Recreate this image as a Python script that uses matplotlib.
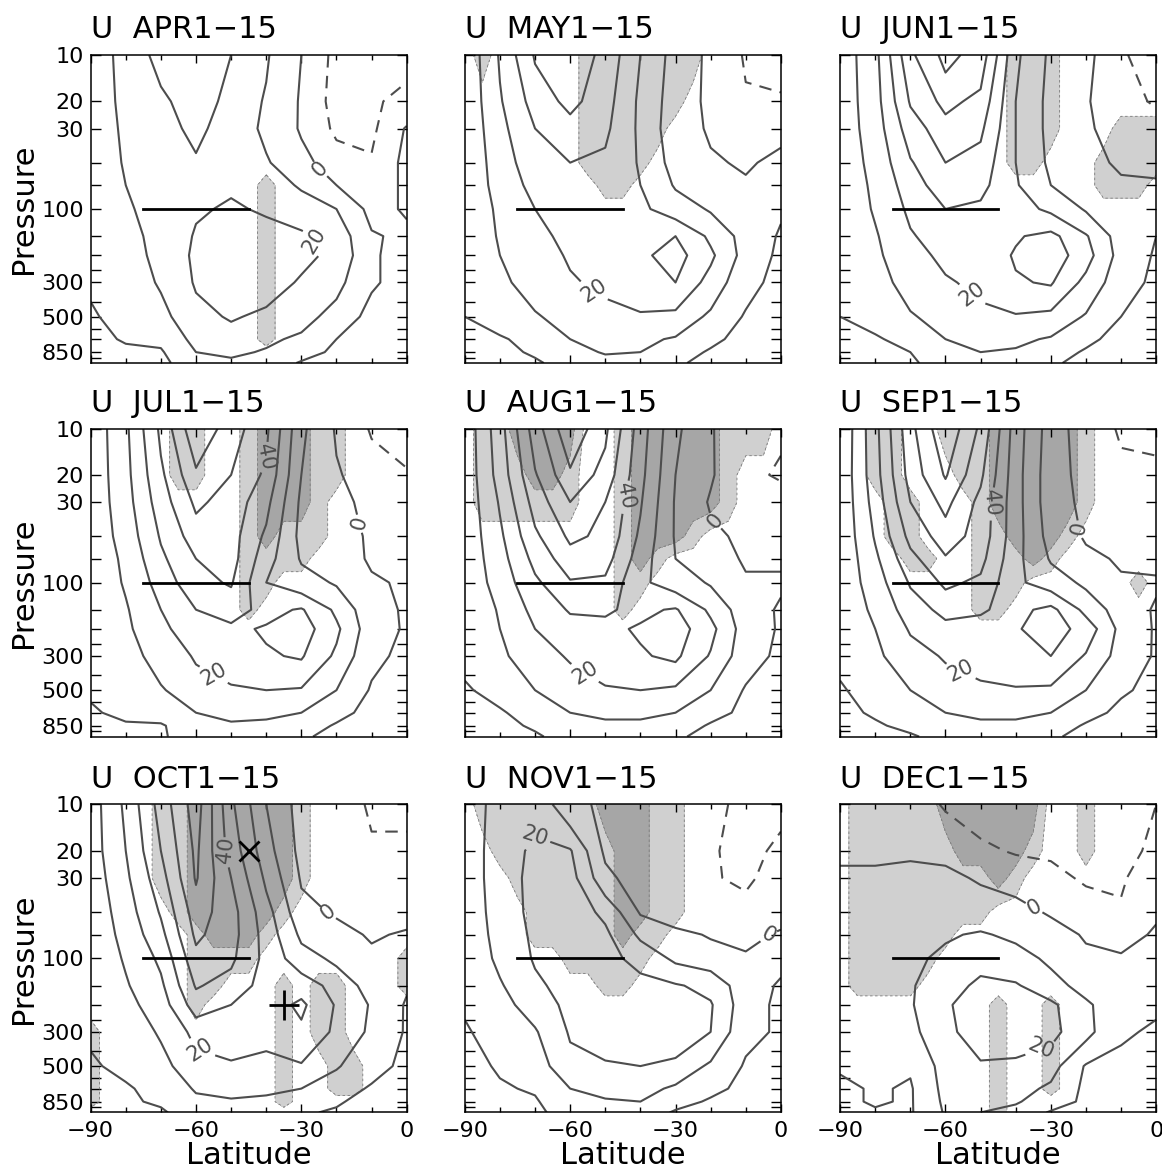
import numpy as np
import matplotlib.pyplot as plt
from matplotlib.ticker import FixedLocator, NullFormatter

# grid of the zonal-mean wind (rows = pressure, columns = latitude)
LAT = [-90, -80, -70, -60, -50, -40, -30, -20, -10, 0]
PRES = [10, 20, 30, 50, 70, 100, 150, 200, 300, 500, 700, 850, 1000]
# finer latitude grid for the shaded (significance) areas, 0 = none, 1 = light, 2 = dark
SHADE_LAT = list(range(-90, 1, 5))

MONTHS = ['APR', 'MAY', 'JUN', 'JUL', 'AUG', 'SEP', 'OCT', 'NOV', 'DEC']

U_APR = [
    [3, 14, 23, 29, 20, 11, 0, -13, -14, -12],
    [3, 13, 18, 25, 17, 9, -1, -14, -11, -8],
    [3, 12, 17, 22, 16, 8, -1, -12, -12, 1],
    [3, 11, 16, 19, 17, 11, 3, -5, -9, 3],
    [3, 10, 15, 18, 19, 14, 9, 0, -6, 2],
    [2, 9, 13, 19, 21, 19, 14, 10, -3, 1],
    [2, 8, 12, 21, 23, 23, 22, 16, 1, -2],
    [2, 7, 12, 22, 24, 25, 22, 18, 1, -3],
    [1, 5, 11, 21, 24, 24, 19, 13, 1, -3],
    [-1, 3, 7, 17, 21, 18, 14, 6, -3, -4],
    [-3, 1, 2, 13, 16, 12, 8, 0, -5, -4],
    [-3, -2, -1, 10, 12, 9, 4, -2, -5, -4],
    [-3, -3, -2, 5, 8, 6, -1, -3, -5, -4],
]
U_MAY = [
    [2, 21, 41, 47, 37, 20, 6, -2, -11, -13],
    [2, 19, 34, 43, 34, 18, 5, -2, -9, -9],
    [2, 17, 30, 36, 32, 18, 4, -1, -4, -2],
    [2, 15, 26, 30, 28, 19, 6, 1, -1, 2],
    [2, 14, 23, 27, 25, 20, 9, 4, 1, 3],
    [2, 12, 20, 24, 23, 22, 15, 9, 3, 1],
    [2, 11, 18, 22, 23, 25, 30, 18, 6, -1],
    [2, 10, 16, 21, 23, 28, 34, 22, 6, -2],
    [2, 8, 14, 19, 22, 25, 30, 16, 3, -3],
    [0, 4, 9, 14, 17, 19, 17, 8, -1, -3],
    [-2, -1, 3, 10, 12, 12, 9, 2, -3, -4],
    [-2, -2, 1, 6, 11, 10, 4, -1, -4, -4],
    [-3, -2, -1, 3, 6, 5, 1, -2, -4, -4],
]
U_JUN = [
    [4, 17, 48, 63, 56, 22, 8, 3, -9, -14],
    [4, 16, 41, 53, 47, 20, 7, 1, -7, -11],
    [4, 15, 35, 46, 42, 20, 7, 1, -3, -6],
    [4, 13, 29, 40, 36, 20, 8, 2, -1, -2],
    [3, 12, 25, 36, 33, 21, 10, 4, 1, 1],
    [3, 11, 22, 30, 28, 24, 18, 9, 2, 1],
    [3, 9, 19, 25, 25, 29, 33, 21, 5, 0],
    [3, 8, 17, 22, 24, 31, 36, 24, 6, -1],
    [2, 6, 14, 19, 22, 29, 31, 17, 4, -2],
    [0, 3, 9, 14, 18, 19, 17, 9, 0, -3],
    [-2, -1, 3, 10, 13, 12, 9, 2, -3, -4],
    [-3, -2, 0, 6, 10, 9, 4, -1, -4, -4],
    [-3, -2, -1, 3, 6, 5, 1, -2, -4, -4],
]
U_JUL = [
    [3, 18, 42, 68, 55, 42, 12, -1, -11, -14],
    [3, 17, 38, 58, 50, 38, 10, 1, -5, -9],
    [3, 16, 35, 52, 46, 33, 8, 2, -2, -3],
    [3, 14, 31, 45, 44, 28, 7, 3, -1, -2],
    [3, 12, 28, 40, 44, 24, 9, 4, -1, -1],
    [3, 11, 24, 37, 41, 20, 14, 9, 1, -1],
    [3, 9, 20, 30, 34, 27, 31, 18, 3, -1],
    [2, 8, 18, 25, 28, 31, 35, 22, 4, -1],
    [2, 6, 14, 21, 24, 29, 31, 18, 2, -2],
    [1, 4, 9, 16, 19, 20, 19, 10, -1, -3],
    [-1, 2, 4, 10, 12, 12, 10, 3, -3, -4],
    [-2, -1, -1, 6, 9, 8, 5, -1, -4, -5],
    [-3, -2, -1, 4, 5, 4, 1, -2, -5, -5],
]
U_AUG = [
    [3, 26, 55, 78, 62, 35, 12, 1, -9, -9],
    [3, 24, 49, 68, 56, 33, 10, 1, -8, -11],
    [3, 21, 44, 60, 50, 31, 9, -1, -4, -6],
    [3, 18, 38, 52, 48, 28, 9, 2, -2, -3],
    [3, 16, 33, 46, 44, 25, 10, 4, -1, -1],
    [3, 14, 28, 39, 38, 22, 15, 9, 1, 1],
    [2, 11, 23, 31, 31, 28, 31, 18, 4, -1],
    [2, 10, 20, 26, 28, 31, 35, 23, 5, -1],
    [2, 8, 16, 21, 25, 29, 32, 19, 4, -2],
    [-1, 3, 10, 15, 19, 20, 18, 10, -1, -3],
    [-2, -1, 4, 10, 12, 12, 10, 3, -2, -3],
    [-3, -2, 1, 6, 8, 8, 5, -1, -3, -4],
    [-3, -2, -1, 3, 5, 4, 1, -2, -4, -4],
]
U_SEP = [
    [1, 27, 57, 78, 58, 25, 5, -5, -11, -11],
    [2, 26, 54, 71, 52, 24, 4, -3, -8, -9],
    [2, 24, 50, 63, 47, 24, 4, -2, -5, -6],
    [2, 21, 43, 55, 46, 24, 6, -1, -3, -4],
    [2, 18, 37, 49, 43, 23, 9, 2, -1, -2],
    [3, 15, 31, 42, 38, 22, 15, 8, 1, 1],
    [3, 12, 25, 33, 31, 27, 33, 17, 5, -1],
    [3, 10, 21, 27, 27, 29, 35, 26, 7, -1],
    [2, 8, 16, 21, 24, 27, 30, 19, 6, -1],
    [-1, 4, 10, 15, 18, 19, 18, 10, 1, -2],
    [-2, 1, 5, 10, 12, 12, 10, 3, -2, -3],
    [-3, -1, 2, 6, 8, 8, 5, -1, -3, -4],
    [-3, -2, -1, 3, 5, 4, 1, -2, -4, -4],
]
U_OCT = [
    [5, 22, 44, 65, 32, 10, -4, -6, -11, -12],
    [5, 20, 40, 62, 36, 14, -3, -6, -9, -8],
    [4, 18, 36, 61, 40, 18, -1, -5, -7, -6],
    [3, 15, 31, 55, 44, 24, 3, -1, -4, -3],
    [3, 13, 27, 52, 44, 26, 8, 3, -1, 1],
    [3, 11, 22, 47, 42, 27, 14, 8, 2, 2],
    [2, 9, 18, 41, 36, 26, 26, 16, 6, 1],
    [2, 7, 15, 35, 30, 25, 32, 19, 9, -1],
    [1, 5, 11, 23, 24, 22, 28, 18, 8, -1],
    [-1, 2, 7, 16, 19, 18, 19, 11, 3, -2],
    [-2, -1, 3, 11, 13, 12, 10, 4, -1, -3],
    [-3, -1, 1, 8, 9, 8, 5, 1, -3, -3],
    [-3, -2, -1, 4, 5, 4, 1, -1, -3, -3],
]
U_NOV = [
    [4, 14, 17, 3, -2, -5, -7, -9, -11, -12],
    [4, 15, 22, 21, -2, -6, -8, -9, -13, -8],
    [4, 15, 23, 24, 3, -6, -8, -9, -12, -5],
    [4, 14, 23, 25, 18, -1, -6, -7, -6, -3],
    [4, 13, 22, 25, 22, 8, 3, -1, -2, 1],
    [3, 12, 21, 25, 23, 17, 8, 5, 1, 2],
    [2, 9, 18, 24, 24, 23, 21, 17, 4, -1],
    [1, 7, 14, 23, 25, 26, 25, 21, 4, -2],
    [-1, 4, 9, 21, 24, 26, 25, 20, 2, -1],
    [-3, 1, 5, 17, 19, 20, 18, 8, -1, -2],
    [-3, -1, 1, 10, 13, 14, 8, 2, -2, -3],
    [-3, -2, -1, 7, 9, 10, 3, -1, -3, -3],
    [-3, -2, -2, 4, 5, 5, -1, -2, -3, -3],
]
U_DEC = [
    [-3, -4, -5, -11, -14, -14, -13, -16, -16, -10],
    [-1, -1, -1, -2, -8, -11, -11, -15, -13, -8],
    [1, 1, 2, 2, -1, -3, -8, -11, -11, -5],
    [2, 3, 4, 6, 5, 3, -1, -6, -9, -1],
    [3, 4, 6, 9, 11, 8, 4, -1, -3, 1],
    [3, 5, 8, 12, 17, 14, 8, 2, 1, 2],
    [3, 5, 9, 16, 22, 21, 14, 6, 2, 1],
    [3, 5, 9, 19, 24, 25, 22, 12, 2, 1],
    [2, 4, 7, 18, 24, 25, 23, 13, 1, -1],
    [1, 1, 1, 14, 19, 18, 14, -1, -2, -2],
    [-2, 1, -1, 13, 15, 14, 8, -2, -3, -3],
    [-2, 1, -1, 12, 13, 11, 5, -2, -4, -3],
    [-3, -1, -1, 11, 10, 7, -1, -2, -4, -3],
]

Z = "0000000000000000000"
SHADE_APR = [Z, Z, Z, Z,
             "0000000000100000000", "0000000000100000000", "0000000000100000000",
             "0000000000100000000", "0000000000100000000", "0000000000100000000",
             "0000000000100000000", Z, Z]
SHADE_MAY = ["0100000111111100000", "0000000111111000000", "0000000111110000000",
             "0000000111100000000", "0000000011000000000", Z, Z, Z, Z, Z, Z, Z, Z]
SHADE_JUN = ["0000000000111000000", "0000000000111000000", "0000000000111000111",
             "0000000000110001111", "0000000000000001110", Z, Z, Z, Z, Z, Z, Z, Z]
SHADE_JUL = ["0000011001222110000", "0000011001222110000", "0000000001222100000",
             "0000000001211100000", "0000000001111000000", "0000000001100000000",
             "0000000001000000000", Z, Z, Z, Z, Z, Z]
SHADE_AUG = ["0112222001222221110", "0111221001222221000", "0111111001222221000",
             "0000000001222100000", "0000000001210000000", "0000000001100000000",
             "0000000001000000000", Z, Z, Z, Z, Z, Z]
SHADE_SEP = ["0011001112222210000", "0011000112222210000", "0001100012222210000",
             "0001100011222100000", "0000110011121000000", "0000000011100000010",
             "0000000011000000000", Z, Z, Z, Z, Z, Z]
SHADE_OCT = ["0000112222221000000", "0000112222221000000", "0000112222221000000",
             "0000012222210000000", "0000001222100000000", "0000001111000000001",
             "0000001100010110001", "0000001000010110000", "1000000000010110000",
             "1000000000010011000", "1000000000010011000", "1000000000010000000", Z]
SHADE_NOV = ["0111111122211000000", "0011111112211000000", "0001111112211000000",
             "0000111112211000000", "0000111112110000000", "0000001111100000000",
             "0000000011000000000", Z, Z, Z, Z, Z, Z]
SHADE_DEC = ["0111112222220010000", "0111111222210010000", "0111111112100000000",
             "0111111110000000000", "0111111000000000000", "0111110000000000000",
             "0111100000000000000", "0000000001001000000", "0000000001001000000",
             "0000000001001000000", "0000000001001000000", "0000000001000000000",
             "0000000001000000000"]

# labelled contours: (value, latitude, pressure)
LABELS = {
    'APR': [(0, -25, 56), (20, -24, 155)],
    'MAY': [(20, -55, 390)],
    'JUN': [(20, -53, 372)],
    'JUL': [(40, -41, 15), (0, -15, 42), (20, -54, 363)],
    'AUG': [(40, -45.5, 27), (0, -19, 40), (20, -56, 393)],
    'SEP': [(40, -48, 30), (0, -22.5, 45), (20, -56, 393)],
    'OCT': [(40, -54.6, 20), (0, -21.7, 48), (20, -59, 398)],
    'NOV': [(20, -70, 15.3), (0, -2.4, 77)],
    'DEC': [(0, -34, 43.5), (20, -34, 330)],
}

JET_LAT = [-75, -45]
JET_P = [100, 100]
OCT_X = (-45, 20)
OCT_PLUS = (-35, 200)

U_ALL = [U_APR, U_MAY, U_JUN, U_JUL, U_AUG, U_SEP, U_OCT, U_NOV, U_DEC]
SHADE_ALL = [SHADE_APR, SHADE_MAY, SHADE_JUN, SHADE_JUL, SHADE_AUG,
             SHADE_SEP, SHADE_OCT, SHADE_NOV, SHADE_DEC]

LINE = '#4d4d4d'
LIGHT = '#d0d0d0'
DARK = '#a6a6a6'
POS_LEVELS = list(range(0, 100, 10))

fig = plt.figure(figsize=(11.62, 11.71), dpi=100)
lefts = [0.078, 0.400, 0.723]
bottoms = [0.690, 0.371, 0.050]

for i, month in enumerate(MONTHS):
    r, c = divmod(i, 3)
    ax = fig.add_axes([lefts[c], bottoms[r], 0.272, 0.263])
    ax.set_yscale('log')

    u = np.array(U_ALL[i], dtype=float)
    s = np.array([[int(ch) for ch in row] for row in SHADE_ALL[i]], dtype=float)

    # shading and its thin dashed outline
    ax.contourf(SHADE_LAT, PRES, s, levels=[0.5, 1.5, 2.5], colors=[LIGHT, DARK])
    lv = [l for l in (0.5, 1.5) if s.max() > l]
    ax.contour(SHADE_LAT, PRES, s, levels=lv, colors='#7a7a7a',
               linewidths=0.6, linestyles=[(0, (3, 3))])

    labelled = sorted(set(l for l, _, _ in LABELS[month]))
    plain = [l for l in POS_LEVELS if l not in labelled and u.min() < l < u.max()]
    ax.contour(LAT, PRES, u, levels=plain, colors=LINE, linewidths=1.5)
    for lev in labelled:
        cs = ax.contour(LAT, PRES, u, levels=[lev], colors=LINE, linewidths=1.5)
        spots = [(la, p) for l, la, p in LABELS[month] if l == lev]
        ax.clabel(cs, manual=spots, inline=True, inline_spacing=3,
                  fmt='%d', fontsize=15, colors=LINE)
    if u.min() < -10:
        neg = [l for l in (-30, -20, -10) if l > u.min()]
        ax.contour(LAT, PRES, u, levels=neg, colors=LINE,
                   linewidths=1.5, linestyles=[(0, (6, 4))])

    ax.plot(JET_LAT, JET_P, color='black', lw=2)
    if month == 'OCT':
        ax.plot(*OCT_X, marker='x', ms=15, mew=2, color='black')
        ax.plot(*OCT_PLUS, marker='+', ms=22, mew=2, color='black')

    ax.set_xlim(-90, 0)
    ax.set_ylim(1000, 10)
    ax.set_xticks([-90, -60, -30, 0])
    ax.set_xticks([-80, -70, -50, -40, -20, -10], minor=True)
    ax.yaxis.set_major_locator(FixedLocator([10, 20, 30, 100, 300, 500, 850]))
    ax.set_yticklabels(['10', '20', '30', '100', '300', '500', '850'])
    ax.yaxis.set_minor_locator(FixedLocator([50, 70, 150, 200, 250, 400, 600, 700, 925]))
    ax.yaxis.set_minor_formatter(NullFormatter())
    ax.tick_params(axis='both', which='both', direction='in', top=True, right=True,
                   labelsize=16, width=1)
    ax.tick_params(axis='x', which='major', length=6, pad=6)
    ax.tick_params(axis='x', which='minor', length=3.5)
    ax.tick_params(axis='y', which='both', length=7, pad=5)
    for sp in ax.spines.values():
        sp.set_linewidth(1.1)

    if c == 0:
        ax.set_ylabel('Pressure', fontsize=22, labelpad=2)
    else:
        ax.tick_params(labelleft=False)
    if r == 2:
        ax.set_xlabel('Latitude', fontsize=22, labelpad=0)
    else:
        ax.tick_params(labelbottom=False)

    ax.set_title(f'U  {month}1\u221215', loc='left', fontsize=22, pad=12)

fig.savefig('out.png', dpi=100)
